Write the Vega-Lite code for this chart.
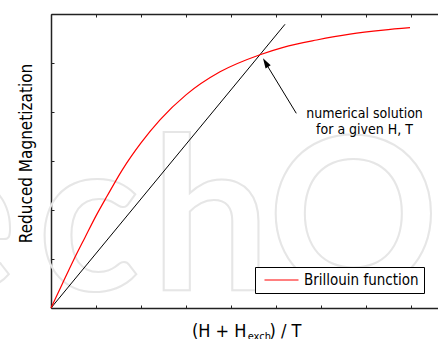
{
  "$schema": "https://vega.github.io/schema/vega-lite/v6.json",
  "width": 387,
  "height": 294,
  "autosize": {"type": "none"},
  "padding": {"left": 51, "top": 14, "right": 0, "bottom": 31},
  "background": "white",
  "datasets": {
    "brillouin": [
      {"series": "Brillouin function", "x": 0, "y": 0},
      {"series": "Brillouin function", "x": 0.25, "y": 0.49},
      {"series": "Brillouin function", "x": 0.5, "y": 0.975},
      {"series": "Brillouin function", "x": 0.75, "y": 1.43},
      {"series": "Brillouin function", "x": 1.0, "y": 1.88},
      {"series": "Brillouin function", "x": 1.25, "y": 2.29},
      {"series": "Brillouin function", "x": 1.578, "y": 2.81},
      {"series": "Brillouin function", "x": 2.0, "y": 3.37},
      {"series": "Brillouin function", "x": 2.422, "y": 3.84},
      {"series": "Brillouin function", "x": 3.0, "y": 4.35},
      {"series": "Brillouin function", "x": 3.756, "y": 4.82},
      {"series": "Brillouin function", "x": 4.644, "y": 5.169},
      {"series": "Brillouin function", "x": 5.162, "y": 5.32},
      {"series": "Brillouin function", "x": 5.904, "y": 5.469},
      {"series": "Brillouin function", "x": 6.644, "y": 5.588},
      {"series": "Brillouin function", "x": 7.384, "y": 5.67},
      {"series": "Brillouin function", "x": 7.978, "y": 5.72}
    ],
    "straight": [
      {"x": 0, "y": 0},
      {"x": 5.2, "y": 5.79}
    ]
  },
  "config": {
    "font": "DejaVu Sans Condensed",
    "view": {"stroke": null},
    "axis": {
      "grid": false,
      "labels": false,
      "domainColor": "#222222",
      "domainWidth": 1.5,
      "tickColor": "#222222",
      "tickSize": -3,
      "tickWidth": 1,
      "titleFontWeight": "normal",
      "titleColor": "black"
    }
  },
  "resolve": {"axis": {"x": "independent", "y": "independent"}},
  "layer": [
    {
      "data": {"values": [{}]},
      "mark": {"type": "text", "text": "e", "font": "Lato", "fontWeight": "bold", "fontSize": 212, "align": "center", "baseline": "alphabetic", "fill": "transparent", "stroke": "#e6e6e6", "strokeWidth": 2},
      "encoding": {
        "x": {"datum": -2.02, "type": "quantitative", "scale": {"domain": [0, 8.6], "nice": false}, "axis": null},
        "y": {"datum": 0.367, "type": "quantitative", "scale": {"domain": [0, 6], "nice": false}, "axis": null}
      }
    },
    {
      "data": {"values": [{}]},
      "mark": {"type": "text", "text": "c", "font": "Lato", "fontWeight": "bold", "fontSize": 212, "align": "center", "baseline": "alphabetic", "fill": "transparent", "stroke": "#e6e6e6", "strokeWidth": 2},
      "encoding": {
        "x": {"datum": 0.833, "type": "quantitative", "scale": {"domain": [0, 8.6], "nice": false}, "axis": null},
        "y": {"datum": 0.367, "type": "quantitative", "scale": {"domain": [0, 6], "nice": false}, "axis": null}
      }
    },
    {
      "data": {"values": [{}]},
      "mark": {"type": "text", "text": "h", "font": "Lato", "fontWeight": "bold", "fontSize": 212, "align": "center", "baseline": "alphabetic", "fill": "transparent", "stroke": "#e6e6e6", "strokeWidth": 2},
      "encoding": {
        "x": {"datum": 3.544, "type": "quantitative", "scale": {"domain": [0, 8.6], "nice": false}, "axis": null},
        "y": {"datum": 0.367, "type": "quantitative", "scale": {"domain": [0, 6], "nice": false}, "axis": null}
      }
    },
    {
      "data": {"values": [{}]},
      "mark": {"type": "text", "text": "O", "font": "Lato", "fontWeight": "bold", "fontSize": 212, "align": "center", "baseline": "alphabetic", "fill": "transparent", "stroke": "#e6e6e6", "strokeWidth": 2},
      "encoding": {
        "x": {"datum": 6.722, "type": "quantitative", "scale": {"domain": [0, 8.6], "nice": false}, "axis": null},
        "y": {"datum": 0.367, "type": "quantitative", "scale": {"domain": [0, 6], "nice": false}, "axis": null}
      }
    },
    {
      "data": {"name": "straight"},
      "mark": {"type": "line", "color": "black", "strokeWidth": 1},
      "encoding": {
        "x": {"field": "x", "type": "quantitative", "scale": {"domain": [0, 8.6], "nice": false},
              "axis": {"orient": "bottom", "values": [0, 1, 2, 3, 4, 5, 6, 7, 8], "title": null}},
        "y": {"field": "y", "type": "quantitative", "scale": {"domain": [0, 6], "nice": false},
              "axis": {"orient": "left", "values": [0, 1, 2, 3, 4, 5, 6], "title": "Reduced Magnetization", "titleFontSize": 17, "titleX": -15.5, "titleY": 139}}
      }
    },
    {
      "data": {"name": "brillouin"},
      "mark": {"type": "line", "strokeWidth": 1.2, "interpolate": "monotone"},
      "encoding": {
        "x": {"field": "x", "type": "quantitative", "scale": {"domain": [0, 8.6], "nice": false},
              "axis": {"orient": "top", "values": [0, 1, 2, 3, 4, 5, 6, 7, 8], "title": null}},
        "y": {"field": "y", "type": "quantitative", "scale": {"domain": [0, 6], "nice": false}, "axis": null},
        "color": {
          "field": "series", "type": "nominal",
          "scale": {"domain": ["Brillouin function"], "range": ["#ff0000"]},
          "legend": {
            "title": null,
            "orient": "none",
            "legendX": 204,
            "legendY": 253,
            "symbolType": "M-0.467,0L4.067,0",
            "symbolSize": 225,
            "symbolStrokeWidth": 1,
            "symbolOffset": 0,
            "labelOffset": 28,
            "labelFontSize": 15,
            "labelColor": "black",
            "padding": 5,
            "fillColor": "white",
            "strokeColor": "black"
          }
        }
      }
    },
    {
      "data": {"values": [{}]},
      "mark": {"type": "rule", "color": "black", "strokeWidth": 1},
      "encoding": {
        "x": {"datum": 5.451, "type": "quantitative", "scale": {"domain": [0, 8.6], "nice": false}, "axis": null},
        "y": {"datum": 3.973, "type": "quantitative", "scale": {"domain": [0, 6], "nice": false}, "axis": null},
        "x2": {"datum": 4.75},
        "y2": {"datum": 5.03}
      }
    },
    {
      "data": {"values": [{}]},
      "mark": {"type": "point", "shape": "M0,0L-0.6,2L0.6,2Z", "filled": true, "color": "black", "opacity": 1, "size": 100, "angle": 329, "strokeWidth": 0},
      "encoding": {
        "x": {"datum": 4.711, "type": "quantitative", "scale": {"domain": [0, 8.6], "nice": false}, "axis": null},
        "y": {"datum": 5.096, "type": "quantitative", "scale": {"domain": [0, 6], "nice": false}, "axis": null}
      }
    },
    {
      "data": {"values": [{}]},
      "mark": {"type": "text", "text": ["numerical solution", "for a given H, T"], "fontSize": 14, "lineHeight": 16.5, "align": "center", "baseline": "alphabetic", "color": "black"},
      "encoding": {
        "x": {"datum": 6.967, "type": "quantitative", "scale": {"domain": [0, 8.6], "nice": false}, "axis": null},
        "y": {"datum": 3.878, "type": "quantitative", "scale": {"domain": [0, 6], "nice": false}, "axis": null}
      }
    },
    {
      "data": {"values": [{}]},
      "mark": {"type": "text", "text": "(H + H", "fontSize": 18, "align": "right", "baseline": "alphabetic", "color": "black"},
      "encoding": {
        "x": {"datum": 4.344, "type": "quantitative", "scale": {"domain": [0, 8.6], "nice": false}, "axis": null},
        "y": {"datum": -0.586, "type": "quantitative", "scale": {"domain": [0, 6], "nice": false}, "axis": null}
      }
    },
    {
      "data": {"values": [{}]},
      "mark": {"type": "text", "text": "exch", "fontSize": 11, "align": "left", "baseline": "alphabetic", "color": "black"},
      "encoding": {
        "x": {"datum": 4.37, "type": "quantitative", "scale": {"domain": [0, 8.6], "nice": false}, "axis": null},
        "y": {"datum": -0.66, "type": "quantitative", "scale": {"domain": [0, 6], "nice": false}, "axis": null}
      }
    },
    {
      "data": {"values": [{}]},
      "mark": {"type": "text", "text": ") / T", "fontSize": 18, "align": "left", "baseline": "alphabetic", "color": "black"},
      "encoding": {
        "x": {"datum": 4.856, "type": "quantitative", "scale": {"domain": [0, 8.6], "nice": false}, "axis": null},
        "y": {"datum": -0.586, "type": "quantitative", "scale": {"domain": [0, 6], "nice": false}, "axis": null}
      }
    }
  ]
}
